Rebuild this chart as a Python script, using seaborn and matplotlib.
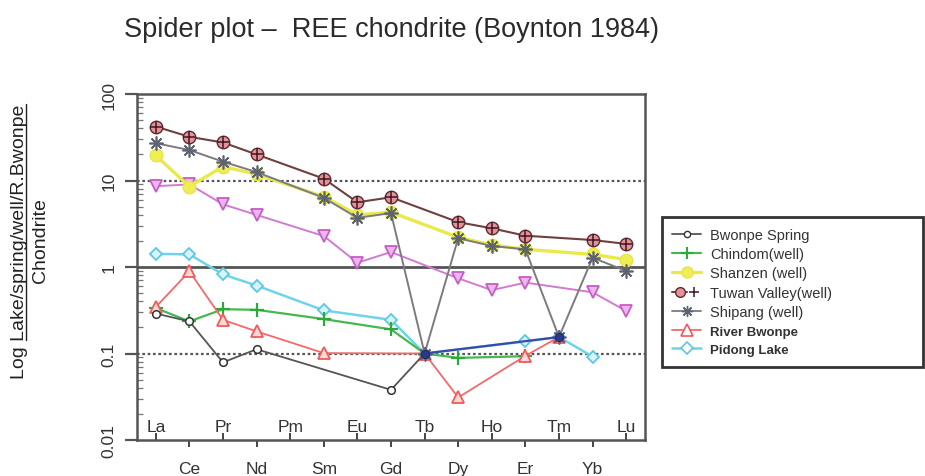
import numpy as np
import pandas as pd
import matplotlib
matplotlib.use("Agg")
import matplotlib.pyplot as plt
import seaborn as sns
from matplotlib.lines import Line2D
from matplotlib.legend_handler import HandlerTuple
from matplotlib.ticker import FixedLocator, FixedFormatter, NullFormatter, LogLocator

nan = np.nan

# Chondrite-normalised REE concentrations (Boynton 1984)
elements = ["La", "Ce", "Pr", "Nd", "Pm", "Sm", "Eu", "Gd",
            "Tb", "Dy", "Ho", "Er", "Tm", "Yb", "Lu"]

bwonpe_spring = [0.29, 0.235, 0.079, 0.112, nan, nan, nan, 0.038, 0.10,
                 nan, nan, nan, nan, nan, nan]
chindom_well = [0.335, 0.235, 0.325, 0.32, nan, 0.25, nan, 0.19, 0.10,
                0.089, nan, 0.093, nan, nan, nan]
shanzen_well = [19.5, 8.5, 14.5, 11.8, nan, 6.5, 4.0, 4.3, nan,
                2.2, 1.8, 1.6, nan, 1.4, 1.22]
tuwan_valley_well = [42, 32, 27.5, 20, nan, 10.5, 5.6, 6.4, nan,
                     3.3, 2.8, 2.3, nan, 2.05, 1.85]
shipang_well = [27, 22.5, 16.5, 12.5, nan, 6.3, 3.7, 4.2, 0.10,
                2.15, 1.75, 1.6, 0.155, 1.28, 0.9]
river_bwonpe = [0.345, 0.89, 0.245, 0.18, nan, 0.101, nan, nan, 0.10,
                0.031, nan, 0.094, 0.155, nan, nan]
pidong_lake = [1.42, 1.40, 0.82, 0.61, nan, 0.315, nan, 0.245, 0.10,
               nan, nan, 0.138, 0.155, 0.092, nan]
magenta_sample = [8.6, 9.0, 5.3, 4.0, nan, 2.28, 1.12, 1.49, nan,
                  0.74, 0.54, 0.66, nan, 0.51, 0.31]
tb_tm_link = [nan, nan, nan, nan, nan, nan, nan, nan, 0.10,
              nan, nan, nan, 0.155, nan, nan]

y_tick_values = [0.01, 0.1, 1, 10, 100]
y_tick_labels = ["0.01", "0.1", "1", "10", "100"]

legend_labels = ["Bwonpe Spring", "Chindom(well)", "Shanzen (well)",
                 "Tuwan Valley(well)", "Shipang (well)", "River Bwonpe",
                 "Pidong Lake"]

sns.set_theme(style="white")
plt.rcParams["font.family"] = ["Liberation Sans", "DejaVu Sans"]

W, H = 925, 477
fig = plt.figure(figsize=(W / 100, H / 100), dpi=100)
ax = fig.add_axes([137 / W, 1 - 441 / H, (645 - 137) / W, (441 - 95) / H])

pos = np.arange(len(elements))


def draw(values, color, lw=1.4, z=2, **kw):
    df = pd.DataFrame({"pos": pos, "val": values}).dropna()
    sns.lineplot(data=df, x="pos", y="val", ax=ax, color=color, lw=lw,
                 sort=False, legend=False, zorder=z, **kw)
    return df


# reference lines
ax.axhline(10, color="#555566", lw=1.6, ls=(0, (1.2, 1.2)), zorder=1)
ax.axhline(0.1, color="#555555", lw=1.6, ls=(0, (1.2, 1.2)), zorder=1)
ax.axhline(1, color="#555555", lw=2.0, zorder=1)

draw(magenta_sample, "#d27ad2", marker="v", markersize=9,
     markerfacecolor="#eeb4ee", markeredgecolor="#c35fc3", markeredgewidth=1.3)
draw(pidong_lake, "#6fd3ea", lw=1.8, marker="D", markersize=6.5,
     markerfacecolor="#d8f4fa", markeredgecolor="#5cc8e2", markeredgewidth=1.3)
draw(chindom_well, "#45b84f", lw=1.6, marker="+", markersize=10,
     markeredgecolor="#2ea83a", markeredgewidth=1.6)
draw(river_bwonpe, "#f26a6a", lw=1.3, marker="^", markersize=9,
     markerfacecolor="#ffd8d8", markeredgecolor="#f05a5a", markeredgewidth=1.3)
draw(bwonpe_spring, "#555555", lw=1.3, marker="o", markersize=5.5,
     markerfacecolor="white", markeredgecolor="#333333", markeredgewidth=1.1)
draw(shanzen_well, "#e9e94a", lw=2.4, marker="o", markersize=9,
     markerfacecolor="#efef55", markeredgecolor="#e6e645", markeredgewidth=1.0, z=3)
draw(shipang_well, "#7b7b80", lw=1.4, marker=(8, 2, 0), markersize=10,
     markeredgecolor="#5d6470", markeredgewidth=1.2, z=4)
draw(tb_tm_link, "#3a4aa8", lw=1.6, marker="o", markersize=6,
     markerfacecolor="#2a3a8a", markeredgecolor="#1a2a70", z=5)
tw = draw(tuwan_valley_well, "#6e4040", lw=1.5, marker="o", markersize=9,
          markerfacecolor="#e8909a", markeredgecolor="#5a2a30",
          markeredgewidth=1.0, z=5)
ax.plot(tw["pos"], tw["val"], ls="none", marker="+", markersize=9,
        markeredgecolor="#3a1a20", markeredgewidth=1.1, zorder=6)

ax.set_yscale("log")
ax.set_ylim(y_tick_values[0], y_tick_values[-1])
ax.set_xlim(-0.56, len(elements) - 1 + 0.56)
ax.set_xlabel("")
ax.set_ylabel("")

# y axis: major labels rotated, minor ticks inward
ax.set_yticks(y_tick_values)
ax.set_yticklabels(y_tick_labels, rotation=90, va="center", fontsize=12.5,
                   color="#333333")
ax.yaxis.set_minor_locator(LogLocator(base=10, subs=np.arange(2, 10)))
ax.yaxis.set_minor_formatter(NullFormatter())
ax.tick_params(axis="y", which="major", direction="out", length=9, width=1.6,
               color="#555555", pad=6, left=True)
ax.tick_params(axis="y", which="minor", direction="in", length=4, width=0.9,
               color="#777777", left=True)

# x axis: alternate elements inside / outside the frame
ax.xaxis.set_major_locator(FixedLocator(pos[1::2]))
ax.xaxis.set_major_formatter(FixedFormatter(elements[1::2]))
ax.xaxis.set_minor_locator(FixedLocator(pos[0::2]))
ax.xaxis.set_minor_formatter(FixedFormatter(elements[0::2]))
ax.tick_params(axis="x", which="major", direction="out", length=5, width=1.4,
               color="#444444", pad=10, labelsize=12.5, labelcolor="#333333",
               bottom=True)
ax.tick_params(axis="x", which="minor", direction="in", length=5, width=1.4,
               color="#444444", pad=-15, labelsize=12.5, labelcolor="#333333",
               bottom=True)

for s in ax.spines.values():
    s.set_color("#555555")
    s.set_linewidth(1.8)
ax.grid(False)

# title
fig.text(392 / W, 1 - 30 / H, "Spider plot \u2013  REE chondrite (Boynton 1984)",
         ha="center", va="center", fontsize=19.5, color="#2a2a2a")

# y label with underlined numerator
ylab_fs = 14
ylab1 = fig.text(20 / W, 1 - 242 / H, "Log Lake/spring/well/R.Bwonpe",
                 rotation=90, ha="center", va="center", fontsize=ylab_fs,
                 color="#222222")
fig.text(40 / W, 1 - 241 / H, "Chondrite", rotation=90, ha="center",
         va="center", fontsize=ylab_fs, color="#222222")
fig.canvas.draw()
renderer = fig.canvas.get_renderer()
bb = ylab1.get_window_extent(renderer)
tmp = fig.text(0, 0, "Log ", fontsize=ylab_fs)
prefix_len = tmp.get_window_extent(renderer).width
tmp.remove()
x_ul = bb.x1 - 2.5
fig.add_artist(Line2D([x_ul / W, x_ul / W],
                      [(bb.y0 + prefix_len) / H, bb.y1 / H],
                      transform=fig.transFigure, color="#222222", lw=1.0))

# legend
handles = [
    Line2D([], [], color="#555555", lw=1.3, marker="o", markersize=4.5,
           markerfacecolor="white", markeredgecolor="#333333"),
    Line2D([], [], color="#45b84f", lw=1.6, marker="+", markersize=9,
           markeredgecolor="#2ea83a", markeredgewidth=1.5),
    Line2D([], [], color="#e9e94a", lw=2.4, marker="o", markersize=8,
           markerfacecolor="#efef55", markeredgecolor="#e6e645"),
    (Line2D([], [], color="#6e4040", lw=1.5, marker="o", markersize=7,
            markerfacecolor="#e8909a", markeredgecolor="#5a2a30"),
     Line2D([], [], ls="none", marker="+", markersize=7,
            markeredgecolor="#3a1a20", markeredgewidth=1.1)),
    Line2D([], [], color="#7b7b80", lw=1.3, marker=(8, 2, 0), markersize=8,
           markeredgecolor="#5d6470"),
    Line2D([], [], color="#f26a6a", lw=1.3, marker="^", markersize=9,
           markerfacecolor="white", markeredgecolor="#f05a5a",
           markeredgewidth=1.2),
    Line2D([], [], color="#6fd3ea", lw=1.8, marker="D", markersize=6,
           markerfacecolor="white", markeredgecolor="#5cc8e2",
           markeredgewidth=1.2),
]
leg = fig.legend(handles, legend_labels,
                 handler_map={tuple: HandlerTuple(ndivide=None, pad=0)},
                 loc="center left",
                 bbox_to_anchor=(662 / W, 1 - 368 / H, (923 - 662) / W, 150 / H),
                 mode="expand", frameon=True, fancybox=False, fontsize=10.5,
                 labelspacing=0.37, handlelength=2.0, handletextpad=0.6,
                 borderpad=0.7, borderaxespad=0)
leg.get_frame().set_edgecolor("black")
leg.get_frame().set_linewidth(2.0)
for t in leg.get_texts():
    t.set_color("#333333")
for t in leg.get_texts()[5:]:
    t.set_fontweight("bold")
    t.set_fontsize(9.5)

fig.savefig("out.png", dpi=100, facecolor="white")
